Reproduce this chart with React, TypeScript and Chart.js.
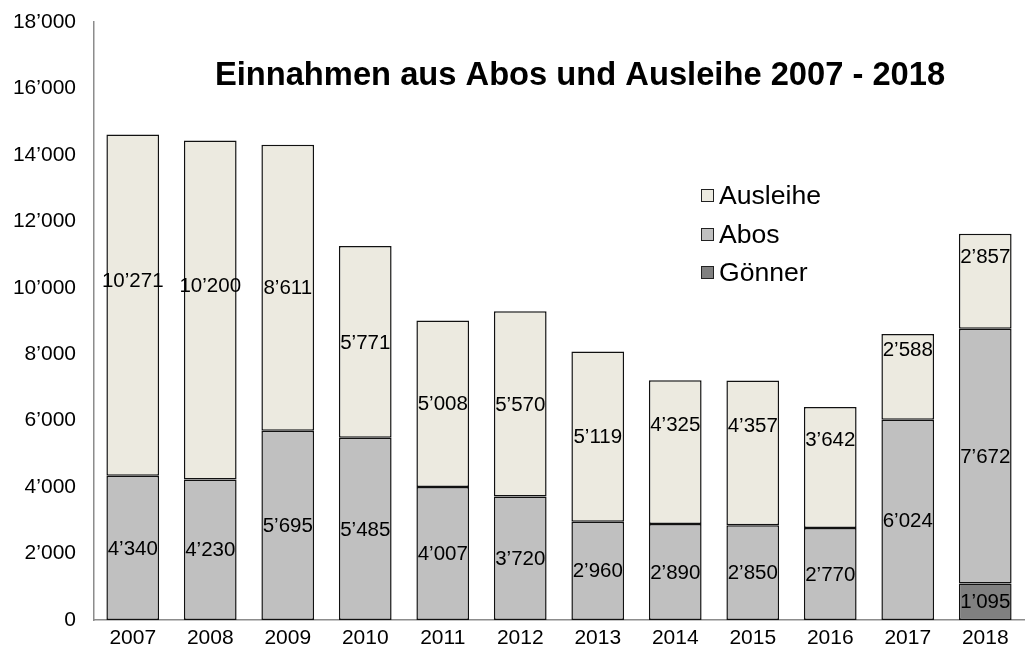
import React, { useEffect, useRef } from "react";
import { Chart, registerables } from "chart.js";

Chart.register(...registerables);

const years = ["2007", "2008", "2009", "2010", "2011", "2012", "2013", "2014", "2015", "2016", "2017", "2018"];
const goenner: (number | null)[] = [null, null, null, null, null, null, null, null, null, null, null, 1095];
const abos = [4340, 4230, 5695, 5485, 4007, 3720, 2960, 2890, 2850, 2770, 6024, 7672];
const ausleihe = [10271, 10200, 8611, 5771, 5008, 5570, 5119, 4325, 4357, 3642, 2588, 2857];
const titleText = "Einnahmen aus Abos und Ausleihe 2007 - 2018";

const FONT = '"Liberation Sans", Arial, Helvetica, sans-serif';
const fmt = (v: number) => String(Math.round(v)).replace(/\B(?=(\d{3})+(?!\d))/g, "\u2019");

// manual label nudges (pixels upward) for the Ausleihe labels, as in the reference
const ausleiheLabelLift = [25, 25, 0, 0, 0, 0, 0, 28, 28, 28, 28, 25];

const overlayPlugin = {
  id: "overlay",
  afterDatasetsDraw(chart: any) {
    const ctx = chart.ctx;
    ctx.save();
    ctx.font = `20.5px ${FONT}`;
    ctx.fillStyle = "#000";
    ctx.textAlign = "center";
    ctx.textBaseline = "middle";
    chart.data.datasets.forEach((ds: any, di: number) => {
      const meta = chart.getDatasetMeta(di);
      meta.data.forEach((bar: any, i: number) => {
        const v = ds.data[i];
        if (v == null) return;
        const { x, y, base } = bar.getProps(["x", "y", "base"], true);
        let cy = (y + base) / 2;
        if (ds.label === "Ausleihe") cy -= ausleiheLabelLift[i];
        ctx.fillText(fmt(v), x, cy + 1);
      });
    });
    ctx.restore();
  },
  afterDraw(chart: any) {
    const ctx = chart.ctx;
    ctx.save();
    // title
    ctx.font = `bold 32.7px ${FONT}`;
    ctx.fillStyle = "#000";
    ctx.textAlign = "center";
    ctx.textBaseline = "alphabetic";
    ctx.fillText(titleText, 580, 85);
    // legend
    const items = [
      { label: "Ausleihe", color: "#ECEAE0", base: 204 },
      { label: "Abos", color: "#C0C0C0", base: 243 },
      { label: "G\u00f6nner", color: "#808080", base: 281 },
    ];
    ctx.font = `26.6px ${FONT}`;
    ctx.textAlign = "left";
    items.forEach((it) => {
      ctx.fillStyle = it.color;
      ctx.fillRect(701, it.base - 15, 13, 13);
      ctx.strokeStyle = "#222";
      ctx.lineWidth = 1;
      ctx.strokeRect(701.5, it.base - 14.5, 12, 12);
      ctx.fillStyle = "#000";
      ctx.fillText(it.label, 719, it.base);
    });
    ctx.restore();
  },
};

export default function App() {
  const ref = useRef<HTMLCanvasElement | null>(null);
  useEffect(() => {
    if (!ref.current) return;
    const common = {
      borderColor: "#111",
      borderWidth: 1.5,
      borderSkipped: false,
      barPercentage: 0.68,
      categoryPercentage: 1,
    };
    const chart = new Chart(ref.current, {
      type: "bar",
      data: {
        labels: years,
        datasets: [
          { label: "G\u00f6nner", data: goenner, backgroundColor: "#808080", ...common },
          { label: "Abos", data: abos, backgroundColor: "#C0C0C0", ...common },
          { label: "Ausleihe", data: ausleihe, backgroundColor: "#ECEAE0", ...common },
        ],
      },
      options: {
        responsive: false,
        animation: false,
        layout: { padding: { top: 22, right: 4, left: 0, bottom: 0 } },
        plugins: { legend: { display: false }, title: { display: false }, tooltip: { enabled: false } },
        scales: {
          x: {
            stacked: true,
            grid: { display: false, drawTicks: false },
            border: { display: true, color: "#8c8c8c", width: 1.5 },
            ticks: { color: "#000", font: { family: FONT, size: 21 }, padding: 6 },
            afterFit: (s: any) => { s.height = 32; },
          },
          y: {
            stacked: true,
            min: 0,
            max: 18000,
            grid: { display: false, drawTicks: false },
            border: { display: true, color: "#8c8c8c", width: 1.5 },
            ticks: {
              stepSize: 2000,
              color: "#000",
              font: { family: FONT, size: 21 },
              padding: 18,
              callback: (v: any) => fmt(Number(v)),
            },
            afterFit: (s: any) => {
              s.width = 94;
              s.paddingTop = 0;
              s.paddingBottom = 0;
            },
          },
        },
      },
      plugins: [overlayPlugin],
    } as any);
    return () => chart.destroy();
  }, []);
  return (
    <div style={{ position: "absolute", left: 0, top: 0, width: 1028, height: 652, background: "#fff" }}>
      <canvas ref={ref} width={1028} height={652} style={{ display: "block" }} />
    </div>
  );
}
